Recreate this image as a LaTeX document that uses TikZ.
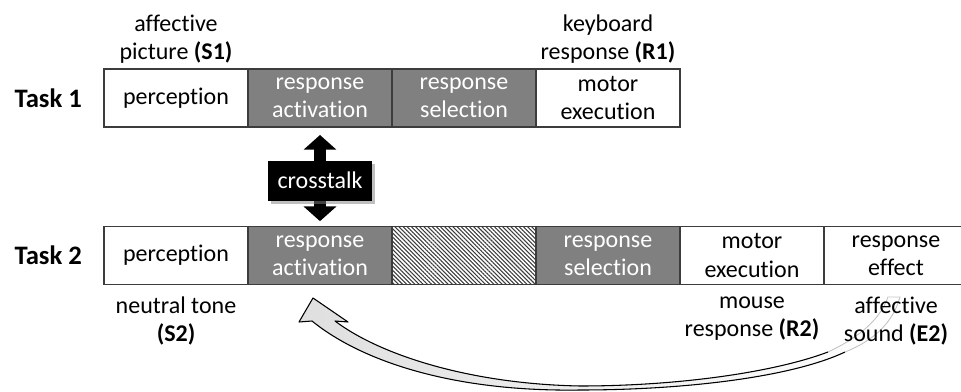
\documentclass[tikz,border=0pt]{standalone}
\usepackage{fontspec}
\setmainfont[Ligatures=NoCommon]{Carlito}
\usepackage{tikz}
\usetikzlibrary{positioning, arrows.meta, patterns.meta, shadows, calc}
\definecolor{stage}{HTML}{808080}
\definecolor{frame}{HTML}{3C3C3C}
\newcommand{\tag}[1]{\textbf{(#1)}}

\begin{document}
\begin{tikzpicture}[x=0.75pt, y=-0.75pt,
  every node/.style={font=\fontsize{18}{21}\selectfont, align=center},
  stagebox/.style={draw=frame, line width=0.9pt, outer sep=0pt, inner sep=0pt,
                   minimum width=108pt, minimum height=43.5pt},
  active/.style={stagebox, fill=stage, text=white},
  passive/.style={stagebox, fill=white},
  hatched/.style={stagebox, pattern={Lines[angle=-45, distance=2.2pt, line width=0.8pt]},
                  pattern color=frame},
  tasklabel/.style={font=\fontsize{20}{24}\selectfont\bfseries},
  backedge/.style={line width=0.8pt, line join=round},
  fadeedge/.style={line width=0.6pt, draw=gray!45}]
\useasboundingbox (0,0) rectangle (961,392);
\clip (0,0) rectangle (961,392);

% effect loops back to response activation
\coordinate (tailo) at (900,297);
\coordinate (taili) at (888,297);
\coordinate (mido) at (845,352);
\coordinate (midi) at (828,352);
\coordinate (loopo) at (580,390);
\coordinate (loopi) at (580,386);
\coordinate (neckl) at (312,321);
\coordinate (neckr) at (335,321);
\fill[left color=gray!25, right color=white]
  (tailo) .. controls (893,322) and (875,340) .. (mido)
  .. controls (790,378) and (680,390) .. (loopo)
  .. controls (450,392) and (360,360) .. (neckl)
  -- (299,322) -- (313,298) -- (348,322) -- (neckr)
  .. controls (380,355) and (470,384) .. (loopi)
  .. controls (680,386) and (775,372) .. (midi)
  .. controls (858,338) and (880,320) .. (taili) -- cycle;
\draw[backedge] (mido) .. controls (790,378) and (680,390) .. (loopo)
  .. controls (450,392) and (360,360) .. (neckl)
  -- (299,322) -- (313,298) -- (348,322) -- (neckr)
  .. controls (380,355) and (470,384) .. (loopi)
  .. controls (680,386) and (775,372) .. (midi);
\draw[fadeedge] (mido) .. controls (875,340) and (893,322) .. (tailo) -- (taili)
  .. controls (880,320) and (858,338) .. (midi);

\node[passive] (p1) at (176,98) {perception};
\node[active, right=0pt of p1] (a1) {response\\activation};
\node[active, right=0pt of a1] (s1) {response\\selection};
\node[passive, right=0pt of s1] (m1) {motor\\execution};
\node[tasklabel, left=13pt of p1] (t1) {Task 1};

\node[passive] (p2) at (176,255.5) {perception};
\node[active, right=0pt of p2] (a2) {response\\activation};
\node[hatched, right=0pt of a2] (w2) {};
\node[active, right=0pt of w2] (s2) {response\\selection};
\node[passive, right=0pt of s2] (m2) {motor\\execution};
\node[passive, right=0pt of m2] (e2) {response\\effect};
\node[tasklabel, left=13pt of p2] (t2) {Task 2};

\node[above=1pt of p1] (stim1) {affective\\picture \tag{S1}};
\node[above=1pt of m1] (resp1) {keyboard\\response \tag{R1}};
\node[below=6pt of p2] (stim2) {neutral tone\\\tag{S2}};
\node[below=6pt of m2] (resp2) {mouse\\response \tag{R2}};
\node[below=6pt of e2] (eff2) {affective\\sound \tag{E2}};

\draw[line width=9pt, {Triangle[width=24pt, length=11pt]}-{Triangle[width=24pt, length=11pt]}]
  ([yshift=-6pt]a1.south) -- ([yshift=4pt]a2.north);
\node[fill=black, text=white, minimum width=78pt, minimum height=30pt, drop shadow]
  (ct) at ($(a1.south)!0.54!(a2.north)$) {crosstalk};
\end{tikzpicture}
\end{document}
